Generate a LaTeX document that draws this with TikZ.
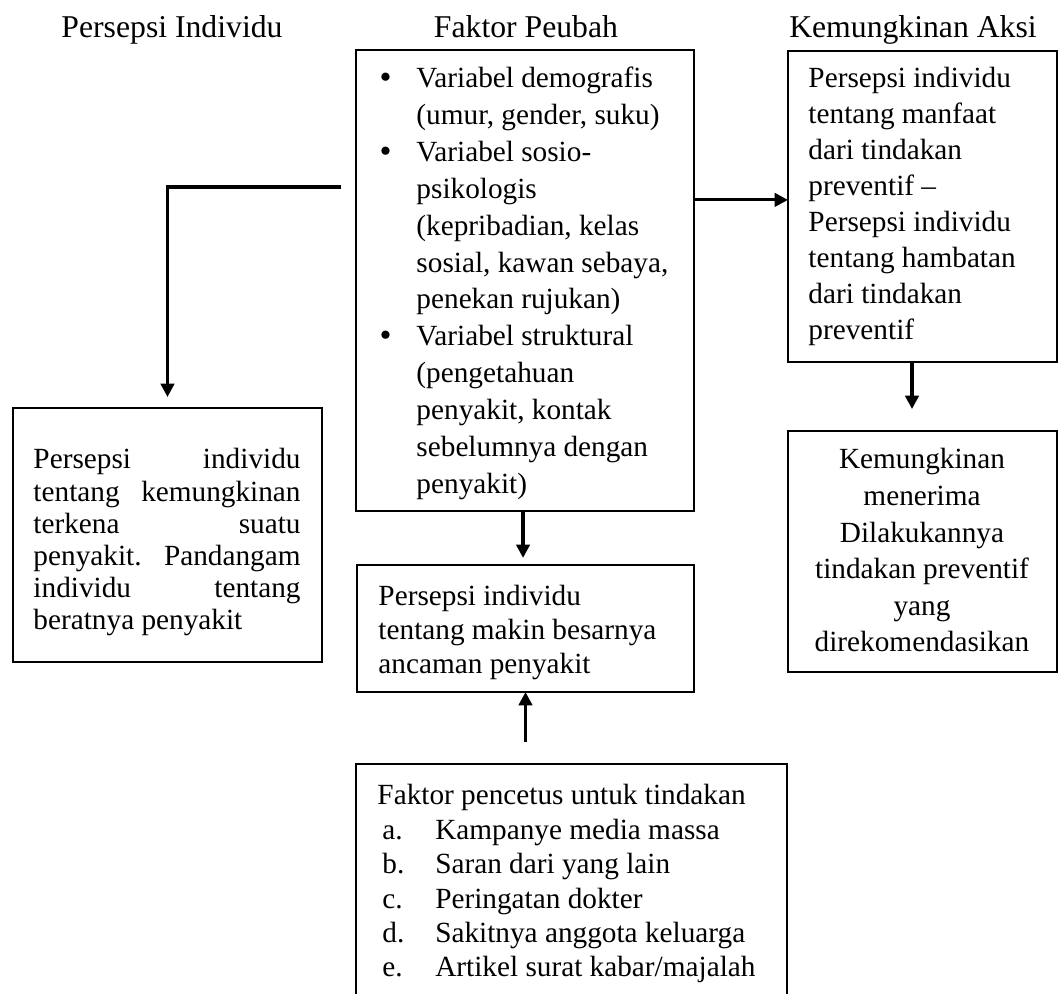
\documentclass[tikz,border=0pt]{standalone}
\usepackage{fontspec}
\setmainfont{Liberation Serif}
\usetikzlibrary{arrows.meta}
\newcommand\mkbox[5]{\node[box,minimum width={#4*0.41pt},minimum height={#5*0.41pt}] (#1) at (#2,#3) {};}
\newcommand\bul{\leavevmode\llap{\raisebox{-0.3pt}{\fontsize{14pt}{14pt}\selectfont\textbullet}\hspace{10.2pt}}}
\begin{document}
\begin{tikzpicture}[x=0.41pt,y=-0.41pt,
  box/.style={draw,line width=1pt,inner sep=0pt,outer sep=0pt,anchor=north west},
  txt/.style={inner sep=0pt,anchor=base west},
  ctxt/.style={inner sep=0pt,anchor=base},
  ttl/.style={inner sep=0pt,anchor=base,font=\fontsize{13pt}{15pt}\selectfont},
  arr/.style={line width=1.3pt,-{Triangle[width=5.5pt,length=5.5pt]}}]
\useasboundingbox (0,0) rectangle (1063,994);
\frenchspacing
% titles
\node[ttl] (t1) at (172,38) {Persepsi Individu};
\node[ttl] (t2) at (526,38) {Faktor Peubah};
\node[ttl] (t3) at (913,38) {Kemungkinan Aksi};
% boxes
\mkbox{fak}{356}{50}{338}{461}
\mkbox{aksi}{788}{51}{269}{311}
\mkbox{kem}{788}{431}{269}{241}
\mkbox{left}{13}{408}{309}{254}
\mkbox{mid}{357}{565}{337}{127}
\mkbox{bot}{356}{764}{431}{246}
% texts
\node[txt,font=\fontsize{12pt}{15.1pt}\selectfont] (fakt) at (416,88) {\parbox[t]{120pt}{\raggedright
\bul Variabel demografis\\
(umur, gender, suku)\\
\bul Variabel sosio-\\
psikologis\\
(kepribadian, kelas\\
sosial, kawan sebaya,\\
penekan rujukan)\\
\bul Variabel struktural\\
(pengetahuan\\
penyakit, kontak\\
sebelumnya dengan\\
penyakit)}};
\node[txt,font=\fontsize{12pt}{14.76pt}\selectfont] (aksit) at (808,88) {\parbox[t]{105pt}{\raggedright
Persepsi individu\\
tentang manfaat\\
dari tindakan\\
preventif –\\
Persepsi individu\\
tentang hambatan\\
dari tindakan\\
preventif}};
\node[ctxt,font=\fontsize{12pt}{15pt}\selectfont] (kemt) at (922,469) {\parbox[t]{105pt}{\centering
Kemungkinan\\
menerima\\
Dilakukannya\\
tindakan preventif\\
yang\\
direkomendasikan}};
\node[txt,font=\fontsize{12pt}{13.2pt}\selectfont] (leftt) at (33,469) {\parbox[t]{109.5pt}{
Persepsi individu\linebreak
tentang kemungkinan\linebreak
terkena suatu\linebreak
penyakit. Pandangam\linebreak
individu tentang\linebreak
beratnya penyakit}};
\node[txt,font=\fontsize{12pt}{14.1pt}\selectfont] (midt) at (378,605) {\parbox[t]{130pt}{\raggedright
Persepsi individu\\
tentang makin besarnya\\
ancaman penyakit}};
\node[txt,font=\fontsize{12pt}{14.1pt}\selectfont] (bott) at (377,805) {\parbox[t]{170pt}{\raggedright
Faktor pencetus untuk tindakan\\
\hspace*{2pt}\makebox[21.7pt][l]{a.}Kampanye media massa\\
\hspace*{2pt}\makebox[21.7pt][l]{b.}Saran dari yang lain\\
\hspace*{2pt}\makebox[21.7pt][l]{c.}Peringatan dokter\\
\hspace*{2pt}\makebox[21.7pt][l]{d.}Sakitnya anggota keluarga\\
\hspace*{2pt}\makebox[21.7pt][l]{e.}Artikel surat kabar/majalah}};
% connectors
\coordinate (c1) at (341,187);
\draw[arr,shorten >=4.5pt] (c1) -| (left.north);
\draw[arr] ([yshift=2.7pt]aksi.west -| fak.east) -- ([yshift=2.7pt]aksi.west);
\draw[arr,shorten >=9pt] ([xshift=-4.3pt]aksi.south) -- ([xshift=-4.3pt]kem.north);
\draw[arr,shorten >=2.9pt] ([xshift=-0.8pt]fak.south) -- ([xshift=-0.8pt]fak.south |- mid.north);
\draw[arr,shorten <=9pt] (mid.south |- bot.north) -- (mid.south);
\end{tikzpicture}
\end{document}
